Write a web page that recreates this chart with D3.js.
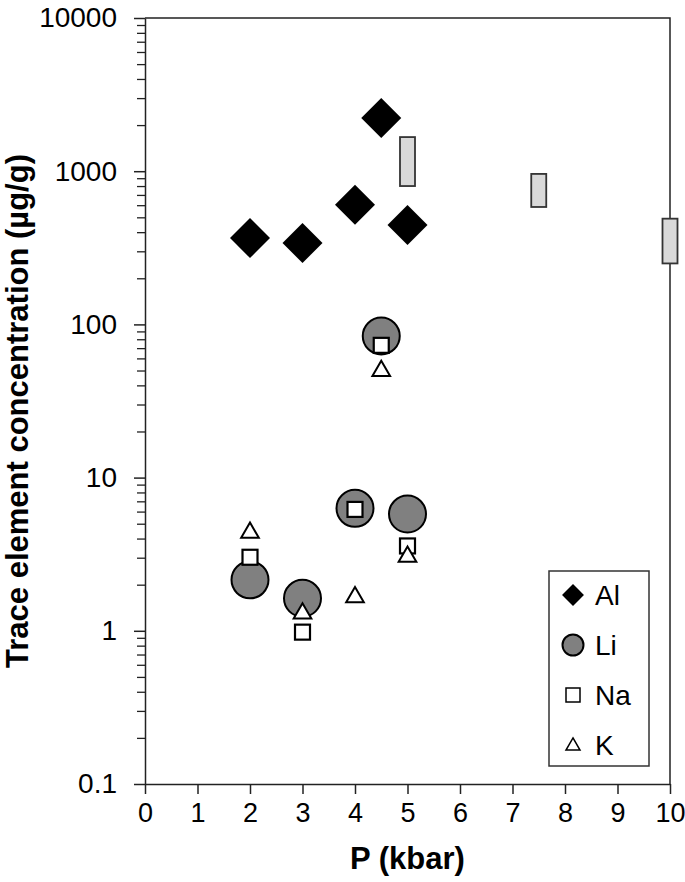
<!DOCTYPE html>
<html>
<head>
<meta charset="utf-8">
<script src="https://cdn.jsdelivr.net/npm/d3@7"></script>
<style>
  html, body { margin: 0; padding: 0; background: #fff; }
  svg { display: block; font-family: "Liberation Sans", Arial, sans-serif; }
</style>
</head>
<body>
<svg id="chart" width="685" height="882"></svg>
<script>
// ---- data ----
const pressure = [2, 3, 4, 4.5, 5];           // kbar
const alVals = [366, 340, 603, 2224, 446];
const liVals = [2.15, 1.63, 6.3, 84, 5.78];
const naVals = [3.02, 0.98, 6.2, 73, 3.58];
const kVals  = [4.37, 1.3, 1.66, 49.7, 3.05];

// grey boxes: ranges at higher pressure
const boxP  = [5, 7.5, 10];
const boxLo = [800, 584, 250];
const boxHi = [1670, 960, 490];

const xTicks = [0, 1, 2, 3, 4, 5, 6, 7, 8, 9, 10];
const yMajor = [0.1, 1, 10, 100, 1000, 10000];
const yLabels = ["0.1", "1", "10", "100", "1000", "10000"];
const legendNames = ["Al", "Li", "Na", "K"];

// ---- layout ----
const svg = d3.select("#chart");
const L = 145, R = 670, T = 18, B = 784;
const ink = "#222";
const tickFont = 28;

const x = d3.scaleLinear().domain([0, 10]).range([L, R]);
const y = d3.scaleLog().domain([0.1, 10000]).range([B, T]);

// minor ticks 2..9 per decade
const yMinor = [];
yMajor.slice(0, -1).forEach(d => { for (let k = 2; k <= 9; k++) yMinor.push(d * k); });

// frame (top + right)
svg.append("path")
  .attr("d", `M${L} ${T} H${R} V${B}`)
  .attr("fill", "none").attr("stroke", ink).attr("stroke-width", 1.5);

// y axis
svg.append("g").attr("transform", `translate(${L},0)`)
  .call(d3.axisLeft(y).tickValues(yMinor).tickSize(8).tickFormat(""))
  .call(g => g.select(".domain").remove())
  .call(g => g.selectAll("line").attr("stroke", ink).attr("stroke-width", 1.3));

svg.append("g").attr("transform", `translate(${L},0)`)
  .call(d3.axisLeft(y).tickValues(yMajor).tickSize(11).tickPadding(17)
    .tickFormat((d, i) => yLabels[i]).tickSizeOuter(0))
  .call(g => g.select(".domain").attr("stroke", ink).attr("stroke-width", 1.5))
  .call(g => g.selectAll("line").attr("stroke", ink).attr("stroke-width", 1.5))
  .call(g => g.selectAll("text").attr("font-size", tickFont).attr("fill", "#000")
    .attr("font-family", "Liberation Sans, Arial, sans-serif"));

// x axis
svg.append("g").attr("transform", `translate(0,${B})`)
  .call(d3.axisBottom(x).tickValues(xTicks).tickSize(10).tickPadding(9).tickSizeOuter(0))
  .call(g => g.select(".domain").attr("stroke", ink).attr("stroke-width", 1.5))
  .call(g => g.selectAll("line").attr("stroke", ink).attr("stroke-width", 1.5))
  .call(g => g.selectAll("text").attr("font-size", 27).attr("fill", "#000")
    .attr("font-family", "Liberation Sans, Arial, sans-serif"));

// axis titles
svg.append("text")
  .attr("x", (L + R) / 2).attr("y", 869)
  .attr("text-anchor", "middle").attr("font-size", 31).attr("font-weight", 700)
  .text("P (kbar)");

svg.append("text")
  .attr("transform", `translate(28,${(T + B) / 2 + 10}) rotate(-90)`)
  .attr("text-anchor", "middle").attr("font-size", 31).attr("font-weight", 700)
  .text("Trace element concentration (µg/g)");

// grey range boxes
svg.append("g").selectAll("rect")
  .data(boxP.map((p, i) => ({ p, lo: boxLo[i], hi: boxHi[i] })))
  .join("rect")
  .attr("x", d => x(d.p) - 7.5).attr("width", 15)
  .attr("y", d => y(d.hi)).attr("height", d => y(d.lo) - y(d.hi))
  .attr("fill", "#d9d9d9").attr("stroke", "#333").attr("stroke-width", 1.8);

// marker styles
const diamond = d3.symbol().type(d3.symbolSquare);
const tri = d3.symbol().type(d3.symbolTriangle);
function pts(vals) { return pressure.map((p, i) => ({ p, v: vals[i] })); }

// Al: diamonds
svg.append("g").selectAll("path")
  .data(pts(alVals)).join("path")
  .attr("d", diamond.size(800)())
  .attr("transform", d => `translate(${x(d.p)},${y(d.v)}) rotate(45)`)
  .attr("fill", "#000");

// Li: grey circles
svg.append("g").selectAll("circle")
  .data(pts(liVals)).join("circle")
  .attr("cx", d => x(d.p)).attr("cy", d => y(d.v)).attr("r", 18.5)
  .attr("fill", "#808080").attr("stroke", "#000").attr("stroke-width", 2);

// Na: open squares
svg.append("g").selectAll("rect")
  .data(pts(naVals)).join("rect")
  .attr("x", d => x(d.p) - 7.5).attr("y", d => y(d.v) - 7.5)
  .attr("width", 15).attr("height", 15)
  .attr("fill", "#fff").attr("stroke", "#000").attr("stroke-width", 2.2);

// K: open triangles
svg.append("g").selectAll("path")
  .data(pts(kVals)).join("path")
  .attr("d", tri.size(135)())
  .attr("transform", d => `translate(${x(d.p)},${y(d.v)})`)
  .attr("fill", "#fff").attr("stroke", "#000").attr("stroke-width", 2);

// legend
const lg = svg.append("g");
lg.append("rect").attr("x", 549).attr("y", 571).attr("width", 100).attr("height", 195)
  .attr("fill", "#fff").attr("stroke", "#333").attr("stroke-width", 1.5);
const rowY = d3.scalePoint().domain(legendNames).range([595, 745]);
const mx = 573;
lg.append("path").attr("d", diamond.size(240)())
  .attr("transform", `translate(${mx},${rowY("Al")}) rotate(45)`).attr("fill", "#000");
lg.append("circle").attr("cx", mx).attr("cy", rowY("Li")).attr("r", 10.5)
  .attr("fill", "#808080").attr("stroke", "#000").attr("stroke-width", 2);
lg.append("rect").attr("x", mx - 7).attr("y", rowY("Na") - 7).attr("width", 14).attr("height", 14)
  .attr("fill", "#fff").attr("stroke", "#000").attr("stroke-width", 1.5);
lg.append("path").attr("d", tri.size(85)())
  .attr("transform", `translate(${mx},${rowY("K") + 1})`)
  .attr("fill", "#fff").attr("stroke", "#000").attr("stroke-width", 1.5);
lg.selectAll("text").data(legendNames).join("text")
  .attr("x", 595).attr("y", d => rowY(d)).attr("dy", "0.36em")
  .attr("font-size", tickFont).text(d => d);
</script>
</body>
</html>
